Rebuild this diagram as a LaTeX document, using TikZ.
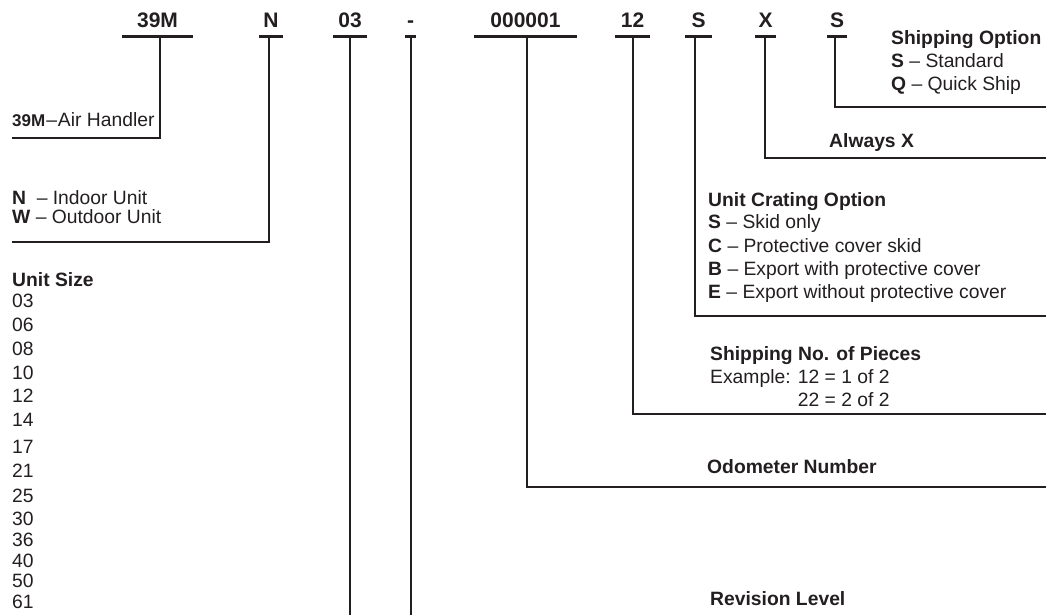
\documentclass[tikz,border=0pt]{standalone}
\usepackage{fontspec}
\setmainfont{Liberation Sans}
\definecolor{ink}{HTML}{231F20}
\begin{document}
\begin{tikzpicture}[x=1pt,y=-1pt,
  code/.style={font=\fontsize{21}{21}\selectfont\bfseries, anchor=base, inner sep=0pt, text depth=8pt, text=ink},
  ul/.style={draw=ink, line width=3pt},
  conn/.style={draw=ink, line width=1.4pt},
  txt/.style={font=\fontsize{19.3}{23}\selectfont, anchor=base west, inner sep=0pt, text=ink},
  txte/.style={txt, anchor=base east},
  hd/.style={txt, font=\fontsize{19.3}{23}\selectfont\bfseries}]
\useasboundingbox (0,0) rectangle (1046,615);

% header codes
\node[code, minimum width=71pt] (c1) at (157.5,28) {39M};
\node[code, minimum width=24pt] (c2) at (271,28) {N};
\node[code, minimum width=34pt] (c3) at (350,28) {03};
\node[code, minimum width=11pt] (c4) at (410.5,28) {-};
\node[code, minimum width=103pt] (c5) at (525.5,28) {000001};
\node[code, minimum width=35pt] (c6) at (632.5,28) {12};
\node[code, minimum width=27pt] (c7) at (698.5,28) {S};
\node[code, minimum width=21pt] (c8) at (765.5,28) {X};
\node[code, minimum width=20pt] (c9) at (837,28) {S};
\foreach \c in {c1,c2,c3,c4,c5,c6,c7,c8,c9}
  \draw[ul] (\c.south west) -- (\c.south east);

% corner and end coordinates
\coordinate (k1) at (160,138);  \coordinate (e1) at (12,138);
\coordinate (k2) at (269,242);  \coordinate (e2) at (12,242);
\coordinate (k3) at (350,615);
\coordinate (k4) at (411,615);
\coordinate (k5) at (527,487);  \coordinate (e5) at (1046,487);
\coordinate (k6) at (633,414);  \coordinate (e6) at (1046,414);
\coordinate (k7) at (695,316);  \coordinate (e7) at (1046,316);
\coordinate (k8) at (765,158);  \coordinate (e8) at (1046,158);
\coordinate (k9) at (835,107);  \coordinate (e9) at (1046,107);

\draw[conn] (k1 |- c1.south) -- (k1) -- (e1);
\draw[conn] (k2 |- c2.south) -- (k2) -- (e2);
\draw[conn] (k3 |- c3.south) -- (k3);
\draw[conn] (k4 |- c4.south) -- (k4);
\draw[conn] (k5 |- c5.south) -- (k5) -- (e5);
\draw[conn] (k6 |- c6.south) -- (k6) -- (e6);
\draw[conn] (k7 |- c7.south) -- (k7) -- (e7);
\draw[conn] (k8 |- c8.south) -- (k8) -- (e8);
\draw[conn] (k9 |- c9.south) -- (k9) -- (e9);

% left texts
\node[txt] (t1) at (12,127) {{\fontsize{17}{17}\selectfont\bfseries 39M}\kern1pt--\kern1pt Air Handler};
\node[txt] (t2a) at (12,204) {\textbf{N}\enspace\kern1pt-- Indoor Unit};
\node[txt] (t2b) at (12,223) {\textbf{W} -- Outdoor Unit};
\node[hd] (us) at (12,286) {Unit Size};
\foreach \v/\y [count=\i] in {03/307,06/331,08/355,10/379,12/402,14/426,17/453,21/477,25/502,30/525,36/546,40/567,50/587,61/608}
  \node[txt] (us\i) at (12,\y) {\v};

% right texts
\node[hd] (so) at (891,45) {Shipping Option};
\node[txt] (so1) at (891,68) {\textbf{S} -- Standard};
\node[txt] (so2) at (891,91) {\textbf{Q} -- Quick Ship};
\node[hd] (ax) at (829,147) {Always X};
\node[hd] (uc) at (708,206) {Unit Crating Option};
\node[txt] (uc1) at (708,228) {\textbf{S} -- Skid only};
\node[txt] (uc2) at (708,252) {\textbf{C} -- Protective cover skid};
\node[txt] (uc3) at (708,275) {\textbf{B} -- Export with protective cover};
\node[txt] (uc4) at (708,298) {\textbf{E} -- Export without protective cover};
\node[hd] (sp) at (710,360) {Shipping No. of Pieces};
\node[txt] (sp1) at (710,383) {Example: 12 = 1 of 2};
\node[txte] (sp2) at (sp1.base east |- 0,406) {22 = 2 of 2};
\node[hd] (od) at (707,473) {Odometer Number};
\node[hd] (rl) at (710,605) {Revision Level};
\end{tikzpicture}
\end{document}
